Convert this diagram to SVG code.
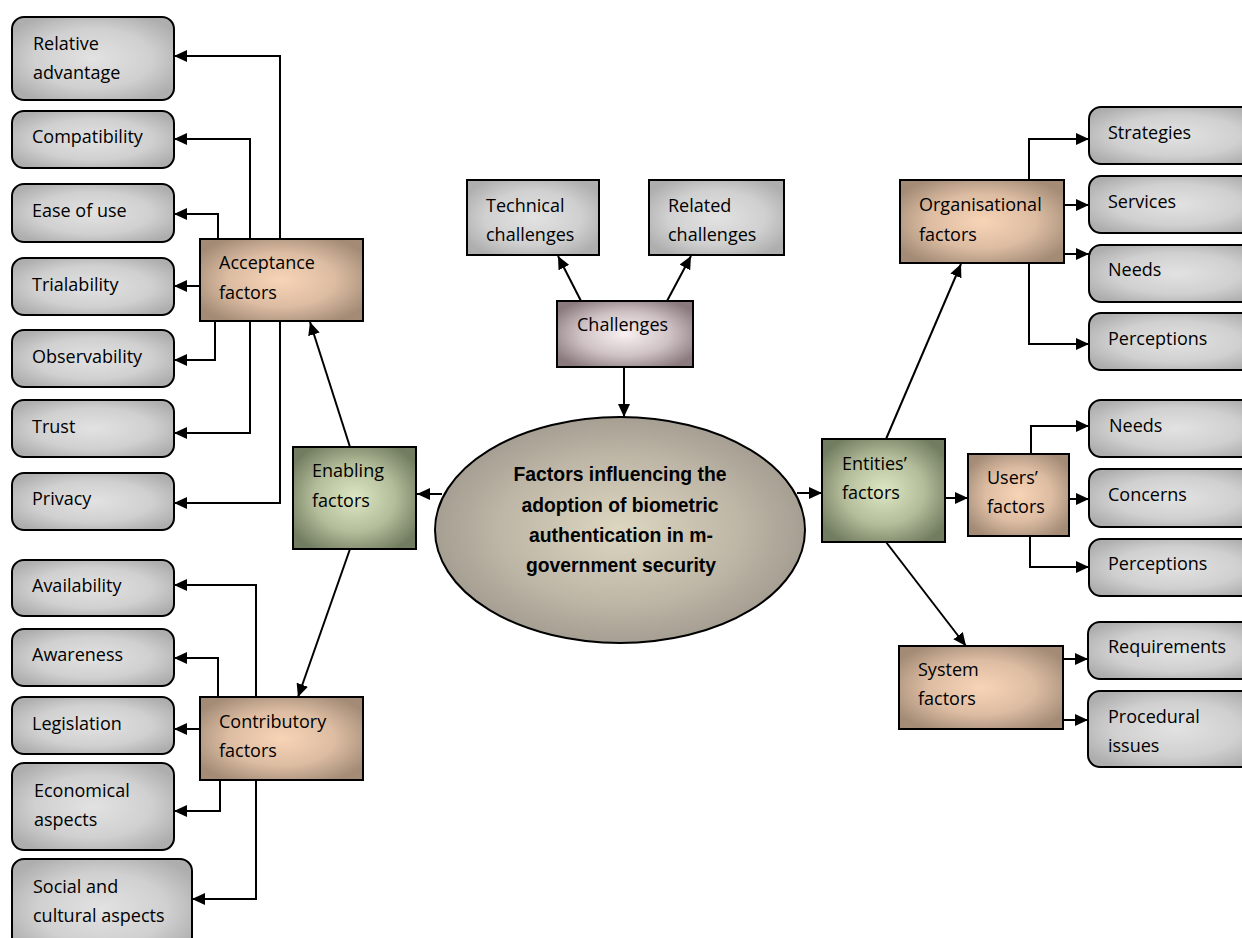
<svg xmlns="http://www.w3.org/2000/svg" width="1242" height="938" viewBox="0 0 1242 938">
<defs>
<radialGradient id="gGray" cx="0.5" cy="0.5" r="0.6">
<stop offset="0" stop-color="#e2e2e2"/><stop offset="0.6" stop-color="#d0d0d0"/><stop offset="1" stop-color="#aeaeae"/>
</radialGradient>
<radialGradient id="gBrown" cx="0.5" cy="0.5" r="0.6">
<stop offset="0" stop-color="#f8d4b6"/><stop offset="0.55" stop-color="#dcbca2"/><stop offset="1" stop-color="#a38b76"/>
</radialGradient>
<radialGradient id="gGreen" cx="0.5" cy="0.5" r="0.6">
<stop offset="0" stop-color="#dde7c2"/><stop offset="0.55" stop-color="#b3bd9a"/><stop offset="1" stop-color="#727c60"/>
</radialGradient>
<radialGradient id="gPink" cx="0.5" cy="0.5" r="0.6">
<stop offset="0" stop-color="#f8f0f2"/><stop offset="0.55" stop-color="#cfc2c5"/><stop offset="1" stop-color="#8a7a7e"/>
</radialGradient>
<radialGradient id="gEll" cx="0.5" cy="0.5" r="0.55">
<stop offset="0" stop-color="#ddd6c0"/><stop offset="0.6" stop-color="#bdb6a6"/><stop offset="1" stop-color="#9e978c"/>
</radialGradient>
<marker id="arr" markerUnits="userSpaceOnUse" markerWidth="13" markerHeight="12" refX="13" refY="6" orient="auto">
<path d="M0,0 L13,6 L0,12 z" fill="#000"/>
</marker>
<style>
.leaf{fill:url(#gGray);stroke:#000;stroke-width:2}
.sq{fill:url(#gGray);stroke:#000;stroke-width:2}
.brown{fill:url(#gBrown);stroke:#000;stroke-width:2}
.green{fill:url(#gGreen);stroke:#000;stroke-width:2}
.pink{fill:url(#gPink);stroke:#000;stroke-width:2}
text{font-family:"Open Sans","Noto Sans",sans-serif;font-size:18px;fill:#000}
.ct{font-family:"Liberation Sans",Arial,sans-serif;font-weight:bold;font-size:20px;text-anchor:middle}
.c{fill:none;stroke:#000;stroke-width:2;marker-end:url(#arr)}
</style>
</defs>

<g id="connectors">
<path class="c" d="M280,239 V56 H174"/>
<path class="c" d="M250,239 V139 H174"/>
<path class="c" d="M218,239 V214 H174"/>
<path class="c" d="M200,286 H174"/>
<path class="c" d="M215,321 V360 H174"/>
<path class="c" d="M250,321 V433 H174"/>
<path class="c" d="M280,321 V503 H174"/>
<path class="c" d="M350,447 L310,322"/>
<path class="c" d="M350,549 L298,697"/>
<path class="c" d="M442,494 H417"/>
<path class="c" d="M256,697 V585 H174"/>
<path class="c" d="M218,697 V658 H174"/>
<path class="c" d="M200,729 H174"/>
<path class="c" d="M220,780 V811 H174"/>
<path class="c" d="M256,780 V899 H192"/>
<path class="c" d="M581,301 L558,256"/>
<path class="c" d="M667,301 L691,256"/>
<path class="c" d="M624,367 V417"/>
<path class="c" d="M797,493 H822"/>
<path class="c" d="M886,439 L961,264"/>
<path class="c" d="M945,498 H968"/>
<path class="c" d="M886,542 L966,646"/>
<path class="c" d="M1029,180 V139 H1089"/>
<path class="c" d="M1064,205 H1089"/>
<path class="c" d="M1064,254 H1089"/>
<path class="c" d="M1029,263 V344 H1089"/>
<path class="c" d="M1031,454 V426 H1089"/>
<path class="c" d="M1069,499 H1089"/>
<path class="c" d="M1030,536 V567 H1089"/>
<path class="c" d="M1063,659 H1088"/>
<path class="c" d="M1063,720 H1088"/>
</g>

<g id="n-relative"><rect class="leaf" x="12" y="17" width="162" height="83" rx="12"/><text x="33" y="50">Relative</text><text x="33" y="79">advantage</text></g>
<g id="n-compat"><rect class="leaf" x="12" y="111" width="162" height="57" rx="12"/><text x="32" y="143">Compatibility</text></g>
<g id="n-ease"><rect class="leaf" x="12" y="184" width="162" height="58" rx="12"/><text x="32" y="217">Ease of use</text></g>
<g id="n-trial"><rect class="leaf" x="12" y="258" width="162" height="57" rx="12"/><text x="32" y="291">Trialability</text></g>
<g id="n-observ"><rect class="leaf" x="12" y="330" width="162" height="57" rx="12"/><text x="32" y="363">Observability</text></g>
<g id="n-trust"><rect class="leaf" x="12" y="400" width="162" height="57" rx="12"/><text x="32" y="433">Trust</text></g>
<g id="n-privacy"><rect class="leaf" x="12" y="473" width="162" height="57" rx="12"/><text x="32" y="505">Privacy</text></g>
<g id="n-avail"><rect class="leaf" x="12" y="560" width="162" height="56" rx="12"/><text x="32" y="592">Availability</text></g>
<g id="n-aware"><rect class="leaf" x="12" y="629" width="162" height="57" rx="12"/><text x="32" y="661">Awareness</text></g>
<g id="n-legis"><rect class="leaf" x="12" y="697" width="162" height="57" rx="12"/><text x="32" y="730">Legislation</text></g>
<g id="n-econ"><rect class="leaf" x="12" y="763" width="162" height="87" rx="12"/><text x="34" y="797">Economical</text><text x="34" y="826">aspects</text></g>
<g id="n-social"><rect class="leaf" x="12" y="859" width="180" height="100" rx="12"/><text x="33" y="893">Social and</text><text x="33" y="922">cultural aspects</text></g>

<g id="n-acceptance"><rect class="brown" x="200" y="239" width="163" height="82"/><text x="219" y="269">Acceptance</text><text x="219" y="299">factors</text></g>
<g id="n-contrib"><rect class="brown" x="200" y="697" width="163" height="83"/><text x="219" y="728">Contributory</text><text x="219" y="757">factors</text></g>
<g id="n-enabling"><rect class="green" x="293" y="447" width="123" height="102"/><text x="312" y="477">Enabling</text><text x="312" y="507">factors</text></g>

<g id="n-technical"><rect class="sq" x="467" y="180" width="132" height="75"/><text x="486" y="212">Technical</text><text x="486" y="241">challenges</text></g>
<g id="n-related"><rect class="sq" x="649" y="180" width="135" height="75"/><text x="668" y="212">Related</text><text x="668" y="241">challenges</text></g>
<g id="n-challenges"><rect class="pink" x="557" y="301" width="136" height="66"/><text x="577" y="331">Challenges</text></g>

<g id="n-center"><ellipse cx="620" cy="530" rx="185" ry="113" fill="url(#gEll)" stroke="#000" stroke-width="2"/>
<text class="ct" x="620" y="481" textLength="213" lengthAdjust="spacingAndGlyphs">Factors influencing the</text>
<text class="ct" x="620" y="512" textLength="197" lengthAdjust="spacingAndGlyphs">adoption of biometric</text>
<text class="ct" x="621" y="542" textLength="184" lengthAdjust="spacingAndGlyphs">authentication in m-</text>
<text class="ct" x="621" y="572" textLength="190" lengthAdjust="spacingAndGlyphs">government security</text>
</g>

<g id="n-entities"><rect class="green" x="822" y="439" width="123" height="103"/><text x="842" y="470">Entities’</text><text x="842" y="499">factors</text></g>
<g id="n-org"><rect class="brown" x="900" y="180" width="164" height="83"/><text x="919" y="211">Organisational</text><text x="919" y="241">factors</text></g>
<g id="n-users"><rect class="brown" x="968" y="454" width="101" height="82"/><text x="987" y="484">Users’</text><text x="987" y="513">factors</text></g>
<g id="n-system"><rect class="brown" x="899" y="646" width="164" height="83"/><text x="918" y="676">System</text><text x="918" y="705">factors</text></g>

<g id="n-strategies"><rect class="leaf" x="1089" y="107" width="175" height="57" rx="12"/><text x="1108" y="139">Strategies</text></g>
<g id="n-services"><rect class="leaf" x="1089" y="176" width="175" height="57" rx="12"/><text x="1108" y="208">Services</text></g>
<g id="n-orgneeds"><rect class="leaf" x="1089" y="245" width="175" height="57" rx="12"/><text x="1108" y="276">Needs</text></g>
<g id="n-orgperc"><rect class="leaf" x="1089" y="313" width="175" height="57" rx="12"/><text x="1108" y="345">Perceptions</text></g>
<g id="n-userneeds"><rect class="leaf" x="1089" y="400" width="175" height="57" rx="12"/><text x="1109" y="432">Needs</text></g>
<g id="n-concerns"><rect class="leaf" x="1089" y="469" width="175" height="58" rx="12"/><text x="1108" y="501">Concerns</text></g>
<g id="n-userperc"><rect class="leaf" x="1089" y="539" width="175" height="57" rx="12"/><text x="1108" y="570">Perceptions</text></g>
<g id="n-req"><rect class="leaf" x="1088" y="622" width="176" height="57" rx="12"/><text x="1108" y="653">Requirements</text></g>
<g id="n-proc"><rect class="leaf" x="1088" y="691" width="176" height="76" rx="12"/><text x="1108" y="723">Procedural</text><text x="1108" y="752">issues</text></g>
</svg>
